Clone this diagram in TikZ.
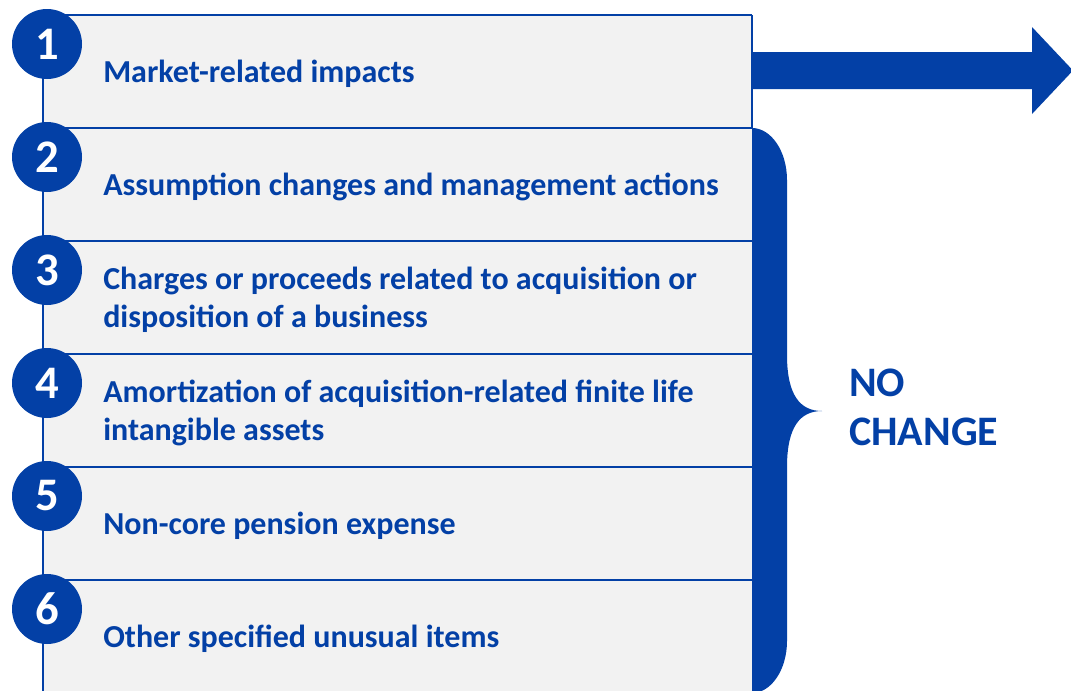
\documentclass[tikz,border=0pt]{standalone}
\usepackage{fontspec}
\setmainfont{Carlito}
\definecolor{cblue}{RGB}{3,64,166}
\definecolor{rowgray}{RGB}{242,242,242}

\begin{document}
\begin{tikzpicture}[x=0.75pt,y=-0.75pt,
    numdot/.style={circle, fill=cblue, text=white, minimum size=52.5pt, inner sep=0pt,
        font=\fontsize{35}{35}\selectfont\bfseries},
    item/.style={anchor=base west, align=left, inner sep=0pt, text=cblue,
        font=\fontsize{24}{28.5}\selectfont\bfseries},
    rowline/.style={draw=cblue, line width=1.5pt}]
\useasboundingbox (0,0) rectangle (1071,690);
\fill[rowgray] (43,15) rectangle (752,693);
\draw[cblue, line width=1.1pt] (43,15) -- (43,693);
\draw[rowline] (43,15) -- (752,15);
\draw[rowline] (43,128) -- (752,128);
\draw[rowline] (43,241) -- (752,241);
\draw[rowline] (43,354) -- (752,354);
\draw[rowline] (43,467) -- (752,467);
\draw[rowline] (43,580) -- (752,580);
\draw[cblue, line width=1.1pt] (752,15) -- (752,128);
\node[numdot] (n1) at (47,44) {1};
\node[numdot] (n2) at (47,157) {2};
\node[numdot] (n3) at (47,270) {3};
\node[numdot] (n4) at (47,383) {4};
\node[numdot] (n5) at (47,496) {5};
\node[numdot] (n6) at (47,609) {6};
\node[item] (t1) at (103,82) {Market-related impacts};
\node[item] (t2) at (103,195) {Assumption changes and management actions};
\node[item] (t3) at (103,327) {Charges or proceeds related to acquisition or\\disposition of a business};
\node[item] (t4) at (103,440) {Amortization of acquisition-related finite life\\intangible assets};
\node[item] (t5) at (103,534) {Non-core pension expense};
\node[item] (t6) at (103,647) {Other specified unusual items};
\fill[cblue] (752,52) -- (1032,52) -- (1032,27) -- (1073,70.5) -- (1032,114) -- (1032,89) -- (752,89) -- cycle;
\fill[cblue] (752,128) .. controls (771,128) and (787,151) .. (787,180) -- (787,355)
    .. controls (787,395) and (800,411) .. (822,411)
    .. controls (800,411) and (787,427) .. (787,467) -- (787,641)
    .. controls (787,670) and (771,693) .. (752,693) -- cycle;
\node[item, font=\fontsize{31.5}{36.75}\selectfont\bfseries] (nochange) at (849,445) {NO\\CHANGE};
\end{tikzpicture}
\end{document}
